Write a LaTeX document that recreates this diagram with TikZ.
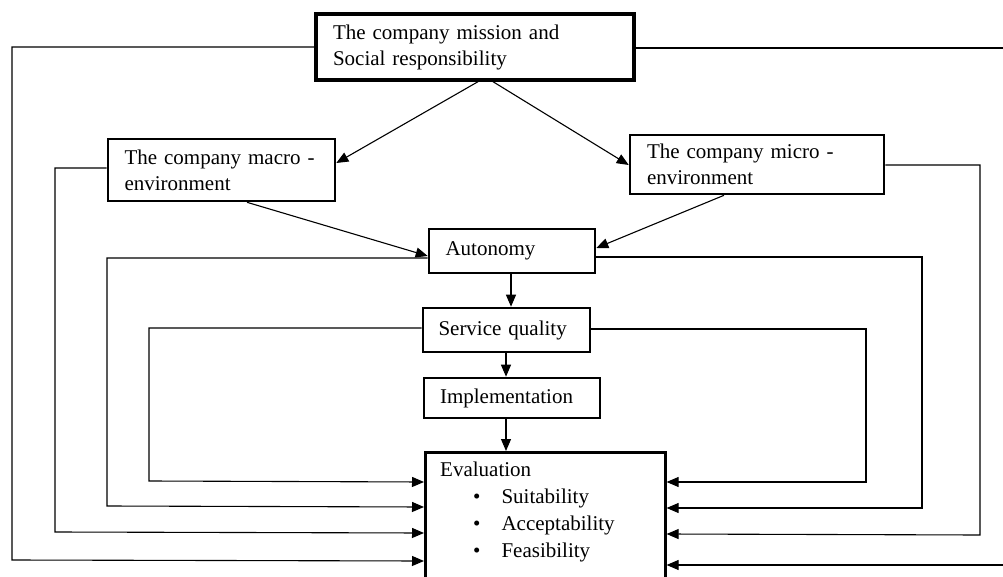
\documentclass[tikz,border=0pt]{standalone}
\usepackage{fontspec}
\setmainfont{Liberation Serif}
\usetikzlibrary{arrows.meta}
\begin{document}
\begin{tikzpicture}[x=1pt,y=-1pt,
  box/.style={draw=black, line width=2.6pt, rectangle, align=left, inner xsep=15pt, inner ysep=0pt, anchor=center},
  thickbox/.style={box, line width=3.4pt},
  conn/.style={draw=black, line width=1.1pt},
  arr/.style={conn, -{Triangle[length=12pt,width=10pt]}},
  txt/.style={font=\fontsize{21}{26}\selectfont}
]
\useasboundingbox (0,0) rectangle (1003,577);
\tikzset{every node/.append style={txt}}
\node[thickbox, minimum width=318pt, minimum height=66pt, text width=284pt] (mission) at (475,47) {The company mission and\\Social responsibility};
\node[box, minimum width=227pt, minimum height=62pt, text width=194pt] (macro) at (221.5,170) {The company macro -\\environment};
\node[box, minimum width=254pt, minimum height=59pt, text width=220pt] (micro) at (757,164.5) {The company micro -\\environment};
\node[box, minimum width=166pt, minimum height=44pt, text width=133pt] (auto) at (512,251) {Autonomy};
\node[box, minimum width=167pt, minimum height=44pt, text width=136pt] (serv) at (506.5,330) {Service quality};
\node[box, minimum width=176pt, minimum height=40pt, text width=144pt] (impl) at (512,398) {Implementation};
\node[draw=black, line width=2.6pt, rectangle, minimum width=240pt, minimum height=150pt, anchor=north west, inner sep=0pt] (eval) at (424,451) {};
\node[anchor=north west, inner sep=0pt, align=left] (evaltext) at (440,462) {Evaluation\\[1pt]
\hspace{33pt}\textbullet\hspace{21pt}Suitability\\[1pt]
\hspace{33pt}\textbullet\hspace{21pt}Acceptability\\[1pt]
\hspace{33pt}\textbullet\hspace{21pt}Feasibility};
% top arrows
\draw[arr] (mission.south -| 478,0) -- (macro.east |- 0,163);
\draw[arr] (mission.south -| 493,0) -- (micro.west |- 0,165);
\draw[arr] (macro.south -| 247,0) -- (auto.west |- 0,256);
\draw[arr] (micro.south -| 724,0) -- (auto.east |- 0,248);
% vertical chain
\draw[arr] (auto.south -| 511,0) -- (serv.north -| 511,0);
\draw[arr] (serv.south -| 506,0) -- (impl.north -| 506,0);
\draw[arr] (impl.south -| 506,0) -- (eval.north -| 506,0);
% left feedback loops
\draw[arr] (mission.west) -- (12,47) -- (12,560) -- (eval.west |- 0,561);
\draw[arr] (macro.west |- 0,168) -- (55,168) -- (55,532) -- (eval.west |- 0,533);
\draw[arr] (auto.west |- 0,258) -- (107,258) -- (107,506) -- (eval.west |- 0,507);
\draw[arr] (serv.west |- 0,328) -- (149,328) -- (149,481) -- (eval.west |- 0,482);
% right feedback loops
\draw[arr] (mission.east |- 0,48) -- (1004,48) -- (1004,565) -- (eval.east |- 0,565);
\draw[arr] (micro.east |- 0,165) -- (980,165) -- (980,535) -- (eval.east |- 0,534);
\draw[arr] (auto.east |- 0,257) -- (922,257) -- (922,508) -- (eval.east |- 0,508);
\draw[arr] (serv.east |- 0,329) -- (866,329) -- (866,482) -- (eval.east |- 0,482);
\end{tikzpicture}
\end{document}
